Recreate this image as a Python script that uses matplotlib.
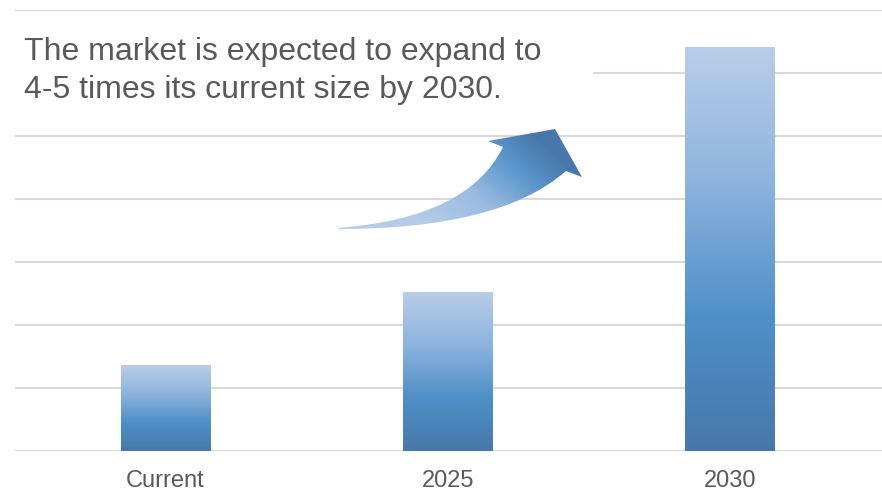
import numpy as np
import matplotlib.pyplot as plt
from matplotlib.colors import LinearSegmentedColormap
from matplotlib.path import Path
from matplotlib.patches import PathPatch, Rectangle

categories = ['Current', '2025', '2030']
values = [1.35, 2.52, 6.4]
note = 'The market is expected to expand to\n4-5 times its current size by 2030.'

plt.rcParams['font.family'] = ['Liberation Sans', 'DejaVu Sans']

# bottom -> top of each bar
bar_cmap = LinearSegmentedColormap.from_list(
    'bar', ['#4878AA', '#4F8FC8', '#8DB3DE', '#B9CDE9'])
arrow_cmap = LinearSegmentedColormap.from_list(
    'arr', [(0, '#B5CBE8'), (0.4, '#9CBCE1'), (0.75, '#5A95CB'), (1, '#4878AA')])

fig = plt.figure(figsize=(8.82, 4.91), dpi=100)
ax = fig.add_axes([15 / 882, 40 / 491, 867 / 882, 441 / 491])

x = np.arange(len(categories))
width = 0.316
grad = np.linspace(0, 1, 256).reshape(-1, 1)
for xi, v in zip(x, values):
    ax.imshow(grad, cmap=bar_cmap, origin='lower', aspect='auto',
              extent=(xi - width / 2, xi + width / 2, 0, v), zorder=2)

ax.set_xlim(-0.534, 2.54)
ax.set_ylim(0, 7)
ax.set_yticks(np.arange(0, 8))
ax.set_yticklabels([])
ax.set_xticks(x)
ax.set_xticklabels(categories)
ax.tick_params(axis='x', length=0, pad=14, labelsize=17, labelcolor='#595959')
ax.tick_params(axis='y', length=0)
ax.yaxis.grid(True, color='#D9D9D9', lw=1.5)
ax.set_axisbelow(True)
for s in ax.spines.values():
    s.set_visible(False)

# white box behind the note hides the gridline
ax.add_patch(Rectangle((0, 0.75), 0.667, 0.227, transform=ax.transAxes,
                       facecolor='white', edgecolor='none', zorder=1))
ax.text(0.0105, 0.938, note, transform=ax.transAxes, ha='left', va='top',
        fontsize=23, color='#595959', linespacing=1.34, zorder=3)

# curved arrow in pixel coords
ax2 = fig.add_axes([0, 0, 1, 1])
ax2.set_xlim(0, 882)
ax2.set_ylim(491, 0)
ax2.axis('off')

verts = [(338, 228), (468, 218), (503, 147), (488, 141), (555, 129),
         (582, 177), (566, 171), (500, 229), (339, 229), (338, 228)]
codes = [Path.MOVETO, Path.CURVE3, Path.CURVE3, Path.LINETO, Path.LINETO,
         Path.LINETO, Path.LINETO, Path.CURVE3, Path.CURVE3, Path.CLOSEPOLY]
patch = PathPatch(Path(verts, codes), facecolor='none', edgecolor='none')
ax2.add_patch(patch)

X, Y = np.meshgrid(np.linspace(330, 590, 300), np.linspace(120, 235, 150))
x0, y0 = 430, 232
dx, dy = 525 - x0, 127 - y0
t = ((X - x0) * dx + (Y - y0) * dy) / (dx * dx + dy * dy)
im = ax2.imshow(np.clip(t, 0, 1), cmap=arrow_cmap, origin='upper',
                extent=(330, 590, 235, 120), aspect='auto', zorder=4)
im.set_clip_path(patch)
ax2.set_xlim(0, 882)
ax2.set_ylim(491, 0)

fig.savefig('out.png', dpi=100)
